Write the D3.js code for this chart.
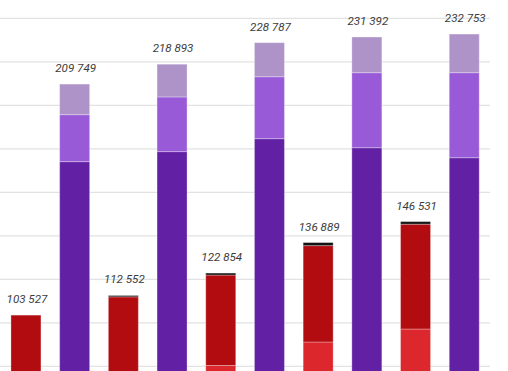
<!DOCTYPE html>
<html>
<head>
  <meta charset="UTF-8">
  <style>
    body { margin: 0; background: #fff; overflow: hidden; }
    svg { display: block; }
    .lbl { font-family: Roboto, sans-serif; font-style: italic; font-size: 11.6px; fill: #3c3c3c; }
  </style>
  <title>stacked bars</title>
</head>
<body>
<svg></svg>
<script src="https://d3js.org/d3.v7.min.js"></script>
<script>

let width = 508, height = 371;

// one red bar and one purple bar per period
let periods = ["P1", "P2", "P3", "P4", "P5"];

let redLight = [62000, 71000, 80370, 91170, 97150];
let redDark = [41527, 40952, 41584, 44319, 48181];
let redTop = [0, 600, 900, 1400, 1200];
let redTotal = [103527, 112552, 122854, 136889, 146531];

let purpleDark = [174100, 178700, 184650, 180500, 175900];
let purpleMid = [21600, 25150, 28500, 34500, 39100];
let purpleLight = [14049, 15043, 15637, 16392, 17753];
let purpleTotal = [209749, 218893, 228787, 231392, 232753];

let yTicks = d3.range(0, 240001, 20000);

let svg = d3.select("svg")
    .attr("width", width)
    .attr("height", height);

// bars in the order they sit on the axis
let bars = [];
periods.forEach((p, i) => {
    bars.push({ key: p + "-r", total: redTotal[i],
        parts: [[redLight[i], "#dc272d"], [redDark[i], "#b20c11"], [redTop[i], "#111111"]] });
    bars.push({ key: p + "-p", total: purpleTotal[i],
        parts: [[purpleDark[i], "#6221a4"], [purpleMid[i], "#995ad8"], [purpleLight[i], "#ad93c8"]] });
});

let x = d3.scaleBand()
    .domain(bars.map(d => d.key))
    .range([1.6, 488.6])
    .paddingInner(0.384)
    .paddingOuter(0.192);

let y = d3.scaleLinear()
    .domain([0, 240000])
    .range([540.3, 18.3]);

// grid
svg.append("g")
    .attr("id", "grid")
    .selectAll("line")
    .data(yTicks)
  .enter()
    .append("line")
    .attr("x1", -10)
    .attr("x2", 490)
    .attr("y1", d => y(d))
    .attr("y2", d => y(d))
    .attr("stroke", "#e2e2e2")
    .attr("stroke-width", 1.3);

// stacked segments
let segs = [];
bars.forEach(b => {
    let acc = 0;
    b.parts.forEach(pt => {
        if (pt[0] > 0) segs.push({ key: b.key, y0: acc, y1: acc + pt[0], color: pt[1] });
        acc += pt[0];
    });
});

svg.append("g")
    .attr("id", "bars")
    .selectAll("rect")
    .data(segs)
  .enter()
    .append("rect")
    .attr("x", d => x(d.key))
    .attr("width", x.bandwidth())
    .attr("y", d => y(d.y1))
    .attr("height", d => y(d.y0) - y(d.y1))
    .attr("fill", d => d.color)
    .attr("stroke", "#ffffff")
    .attr("stroke-opacity", 0.3)
    .attr("stroke-width", 1);

// totals above each bar
let fmt = d3.format(",");
svg.append("g")
    .attr("id", "labels")
    .selectAll("text")
    .data(bars)
  .enter()
    .append("text")
    .attr("class", "lbl")
    .attr("x", d => x(d.key) + x.bandwidth() / 2 + 1)
    .attr("y", d => y(d.total) - 12)
    .attr("text-anchor", "middle")
    .text(d => fmt(d.total).replace(/,/g, " "));

</script>
</body>
</html>
